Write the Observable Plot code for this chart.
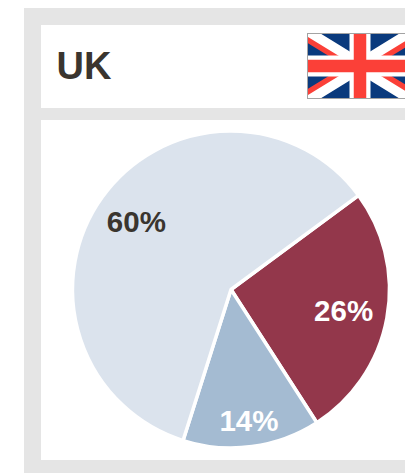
<!DOCTYPE html>
<html lang="en">
<head>
<meta charset="utf-8">
<title>UK</title>
<script src="https://cdn.jsdelivr.net/npm/d3@7"></script>
<script src="https://cdn.jsdelivr.net/npm/@observablehq/plot@0.6"></script>
<style>
  html, body { margin: 0; padding: 0; background: #fff; overflow: hidden; }
  body { width: 405px; height: 473px; position: relative; font-family: "Liberation Sans", Arial, sans-serif; }
  .panel { position: absolute; left: 23.5px; top: 8px; width: 381.5px; height: 465px; background: #e5e5e5; }
  .header { position: absolute; left: 40.5px; top: 25px; width: 364.5px; height: 82.5px; background: #fff; overflow: hidden; }
  .header h1 { position: absolute; left: 16px; top: 19px; margin: 0; font-size: 38px; line-height: 44px; font-weight: 700; color: #3a352f; }
  .flag { position: absolute; left: 266.5px; top: 8px; }
  #chart { position: absolute; left: 40.5px; top: 120px; width: 364.5px; height: 340px; background: #fff; }
  #chart svg { display: block; }
</style>
</head>
<body>
<div class="panel"></div>
<div class="header">
  <h1>UK</h1>
  <svg class="flag" width="106" height="66" viewBox="0 0 106 66" role="img" aria-label="Union Jack">
    <clipPath id="field"><rect x="1" y="1" width="104" height="64"/></clipPath>
    <g clip-path="url(#field)">
      <rect x="1" y="1" width="104" height="64" fill="#0a3a7d"/>
      <path d="M1 1L105 65M105 1L1 65" stroke="#fff" stroke-width="14"/>
      <path d="M-9 1L53 39M115 1L53 39M-9 65L53 27M115 65L53 27" stroke="#fb4038" stroke-width="5.5" fill="none"/>
      <path d="M53 1V65M1 33H105" stroke="#fff" stroke-width="21"/>
      <path d="M53 1V65M1 33H105" stroke="#fb4038" stroke-width="12.5"/>
    </g>
    <rect x="0.5" y="0.5" width="105" height="65" fill="none" stroke="#a3a3a3"/>
  </svg>
</div>
<div id="chart"></div>
<script>
// Share of each segment, clockwise from the upper-right boundary.
const segments = ["Segment A", "Segment B", "Segment C"];
const shares = [26, 14, 60];
const shareLabels = ["26%", "14%", "60%"];
const segmentColors = ["#93374b", "#a4bbd2", "#dbe3ed"];
const labelColors = ["#ffffff", "#ffffff", "#3a352f"];

// Pie geometry in pixels; the x scale maps the stacked share to an angle.
const cx = 190, cy = 169.5, radius = 158.5;
const labelRadii = [114, 132, 117];
const startAngle = 53.6 * Math.PI / 180;

const rows = segments.map((name, i) => ({name, share: shares[i], label: shareLabels[i], labelColor: labelColors[i], labelRadius: labelRadii[i]}));

const arc = d3.arc().innerRadius(0).outerRadius(radius);

function renderSlices(index, scales, values) {
  const g = d3.create("svg:g").attr("transform", `translate(${cx},${cy})`);
  for (const i of index) {
    g.append("path")
      .attr("d", arc({startAngle: values.x1[i], endAngle: values.x2[i]}))
      .attr("fill", values.fill[i])
      .attr("stroke", "#fff")
      .attr("stroke-width", 3.5)
      .attr("stroke-linejoin", "round");
  }
  return g.node();
}

function renderLabels(index, scales, values, dimensions, context, next) {
  const X = Array.from(values.x), Y = Array.from(values.x);
  for (const i of index) {
    const a = values.x[i], r = rows[i].labelRadius;
    X[i] = cx + r * Math.sin(a);
    Y[i] = cy - r * Math.cos(a);
  }
  return next(index, scales, {...values, x: X, y: Y}, dimensions, context);
}

const chart = Plot.plot({
  width: 364.5,
  height: 340,
  margin: 0,
  style: {background: "transparent", fontFamily: '"Liberation Sans", Arial, sans-serif'},
  x: {axis: null, domain: [0, 100], range: [startAngle, startAngle + 2 * Math.PI]},
  y: {axis: null},
  color: {domain: segments, range: segmentColors},
  marks: [
    Plot.barX(rows, Plot.stackX({x: "share", z: "name", fill: "name", render: renderSlices})),
    Plot.text(rows, Plot.stackX({
      x: "share",
      z: "name",
      text: "label",
      fill: {value: "labelColor", scale: null},
      fontSize: 29.5,
      fontWeight: 700,
      dy: 0.5,
      render: renderLabels
    }))
  ]
});
document.getElementById("chart").append(chart);
</script>
</body>
</html>
